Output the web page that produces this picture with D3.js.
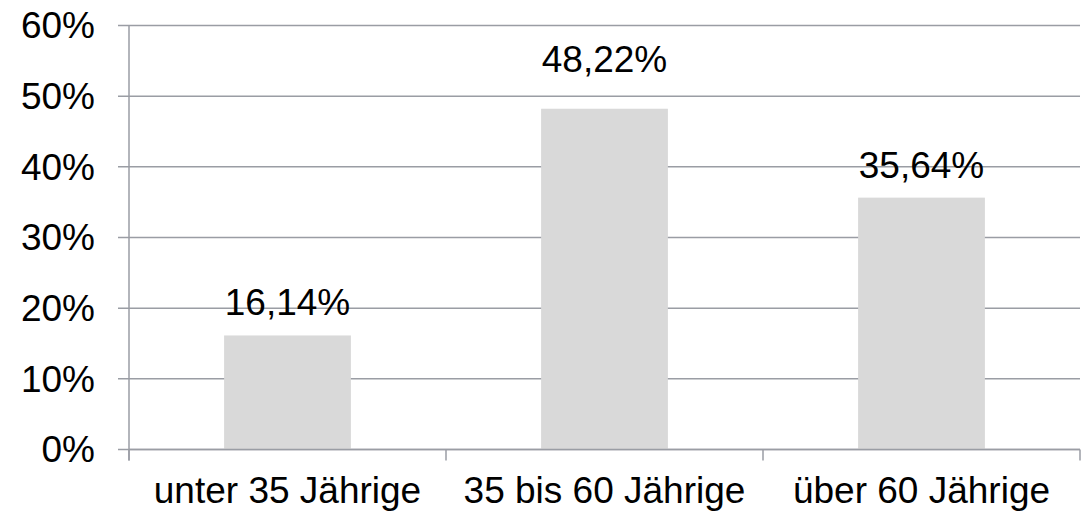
<!DOCTYPE html>
<html>
<head>
<meta charset="utf-8">
<script src="https://cdn.jsdelivr.net/npm/d3@7"></script>
<style>
  body { margin: 0; background: #fff; }
  text { font-family: "Liberation Sans", Arial, sans-serif; fill: #000; }
</style>
</head>
<body>
<script>
let width = 1082;
let height = 515;

let categories = ["unter 35 Jährige", "35 bis 60 Jährige", "über 60 Jährige"];
let values = [16.14, 48.22, 35.64];
let valueLabels = ["16,14%", "48,22%", "35,64%"];
let yTicks = [0, 10, 20, 30, 40, 50, 60];

let margin = { top: 25.5, right: 2, bottom: 65.5, left: 129 };
let gridColor = "#9a9da4";
let fontSize = 37;

let svg = d3.select("body").append("svg")
    .attr("width", width)
    .attr("height", height);

let x = d3.scaleBand()
    .domain(categories)
    .range([margin.left, width - margin.right])
    .paddingInner(0.6)
    .paddingOuter(0.3);

// band boundaries for the category ticks
let step = x.step();
let x0 = margin.left;

let y = d3.scaleLinear()
    .domain([0, 60])
    .range([height - margin.bottom, margin.top]);

// Gridlines + y ticks
svg.append("g")
    .selectAll("line")
    .data(yTicks)
    .enter()
    .append("line")
    .attr("x1", margin.left - 11)
    .attr("x2", width - margin.right)
    .attr("y1", d => y(d))
    .attr("y2", d => y(d))
    .style("stroke", gridColor)
    .style("stroke-width", 1.5);

// Bars
svg.append("g")
    .selectAll("rect")
    .data(values)
    .enter()
    .append("rect")
    .attr("x", (d, i) => x(categories[i]))
    .attr("width", x.bandwidth())
    .attr("y", d => y(d))
    .attr("height", d => y(0) - y(d))
    .style("fill", "#d9d9d9");

// Axis lines
svg.append("line")
    .attr("x1", margin.left).attr("x2", margin.left)
    .attr("y1", y(60)).attr("y2", y(0) + 11)
    .style("stroke", gridColor).style("stroke-width", 1.5);

svg.append("line")
    .attr("x1", margin.left).attr("x2", width - margin.right)
    .attr("y1", y(0)).attr("y2", y(0))
    .style("stroke", gridColor).style("stroke-width", 1.5);

svg.append("g")
    .selectAll("line")
    .data(d3.range(categories.length + 1))
    .enter()
    .append("line")
    .attr("x1", d => x0 + d * (width - margin.right - margin.left) / categories.length)
    .attr("x2", d => x0 + d * (width - margin.right - margin.left) / categories.length)
    .attr("y1", y(0))
    .attr("y2", y(0) + 11)
    .style("stroke", gridColor)
    .style("stroke-width", 1.5);

// Y labels
svg.append("g")
    .selectAll("text")
    .data(yTicks)
    .enter()
    .append("text")
    .attr("x", 95)
    .attr("y", d => y(d))
    .attr("dy", "0.35em")
    .attr("text-anchor", "end")
    .style("font-size", fontSize + "px")
    .text(d => d + "%");

// X labels
svg.append("g")
    .selectAll("text")
    .data(categories)
    .enter()
    .append("text")
    .attr("x", d => x(d) + x.bandwidth() / 2)
    .attr("y", 503)
    .attr("text-anchor", "middle")
    .style("font-size", fontSize + "px")
    .text(d => d);

// Data labels (the middle one sits higher, as in the original)
let labelLift = [0, 17, 0];
svg.append("g")
    .selectAll("text")
    .data(values)
    .enter()
    .append("text")
    .attr("x", (d, i) => x(categories[i]) + x.bandwidth() / 2)
    .attr("y", (d, i) => y(d) - 20 - labelLift[i])
    .attr("text-anchor", "middle")
    .style("font-size", fontSize + "px")
    .text((d, i) => valueLabels[i]);
</script>
</body>
</html>
